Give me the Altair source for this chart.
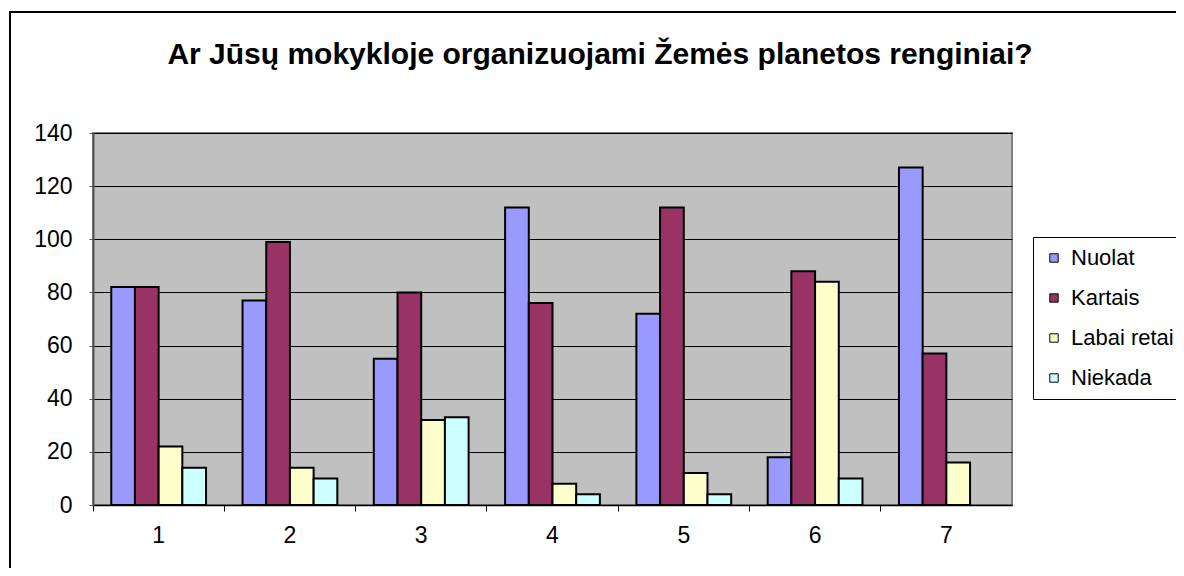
import altair as alt
import pandas as pd

groups = ["1", "2", "3", "4", "5", "6", "7"]
series = ["Nuolat", "Kartais", "Labai retai", "Niekada"]
nuolat = [82, 77, 55, 112, 72, 18, 127]
kartais = [82, 99, 80, 76, 112, 88, 57]
labai_retai = [22, 14, 32, 8, 12, 84, 16]
niekada = [14, 10, 33, 4, 4, 10, 0]
colors = ["#9999FF", "#993366", "#FFFFCC", "#CCFFFF"]
title_text = "Ar Jūsų mokykloje organizuojami Žemės planetos renginiai?"

rows = []
for name, vals in zip(series, [nuolat, kartais, labai_retai, niekada]):
    for g, v in zip(groups, vals):
        rows.append({"group": g, "series": name, "value": v})
df = pd.DataFrame(rows)

FONT = "Liberation Sans"

bars = alt.Chart(df).transform_filter("datum.value > 0").mark_bar(
    stroke="black", strokeWidth=2
).encode(
    x=alt.X("group:N", sort=groups, title=None,
            scale=alt.Scale(domain=groups, paddingInner=0, paddingOuter=0),
            axis=alt.Axis(labelAngle=0, bandPosition=0, tickSize=6, tickColor="black",
                          domainColor="black", domainWidth=1.5, labelFontSize=23,
                          labelFont=FONT, labelColor="black", labelPadding=13, grid=False)),
    xOffset=alt.XOffset("series:N", sort=series,
                        scale=alt.Scale(domain=series, paddingInner=0, paddingOuter=0.77)),
    y=alt.Y("value:Q", title=None,
            scale=alt.Scale(domain=[0, 140], nice=False),
            axis=alt.Axis(values=[0, 20, 40, 60, 80, 100, 120, 140], tickSize=4,
                          tickColor="#555555", domainColor="#555555", domainWidth=2,
                          gridColor="black", gridWidth=1, labelFontSize=23,
                          labelFont=FONT, labelColor="black", labelPadding=17)),
    color=alt.Color("series:N", sort=series,
                    scale=alt.Scale(domain=series, range=colors),
                    legend=alt.Legend(title=None, orient="none", legendX=940, legendY=104,
                                      symbolType="square", symbolSize=70,
                                      symbolStrokeColor="black", symbolStrokeWidth=1,
                                      labelFontSize=22, labelFont=FONT, labelColor="black",
                                      rowPadding=18, padding=10, strokeColor="black",
                                      fillColor="white", labelOffset=6)),
)

one = pd.DataFrame({"t": [title_text]})
frame = alt.Chart(one).mark_rect(fill="transparent", stroke="black", strokeWidth=2,
                                 clip=False).encode(
    x=alt.value(-83), x2=alt.value(1100), y=alt.value(-121), y2=alt.value(460)
)
title = alt.Chart(one).mark_text(font=FONT, fontSize=30, fontWeight="bold", color="black",
                                 align="center", baseline="alphabetic").encode(
    text="t:N", x=alt.value(507), y=alt.value(-69)
)

chart = alt.layer(bars, frame, title).properties(
    width=919, height=372,
    autosize=alt.AutoSizeParams(type="none"),
    padding={"left": 85, "top": 125, "right": 164, "bottom": 63},
    background="white",
).configure_view(fill="#C0C0C0", stroke="#808080", strokeWidth=2)

chart.save("out.html", embed_options={"renderer": "svg", "actions": False})
